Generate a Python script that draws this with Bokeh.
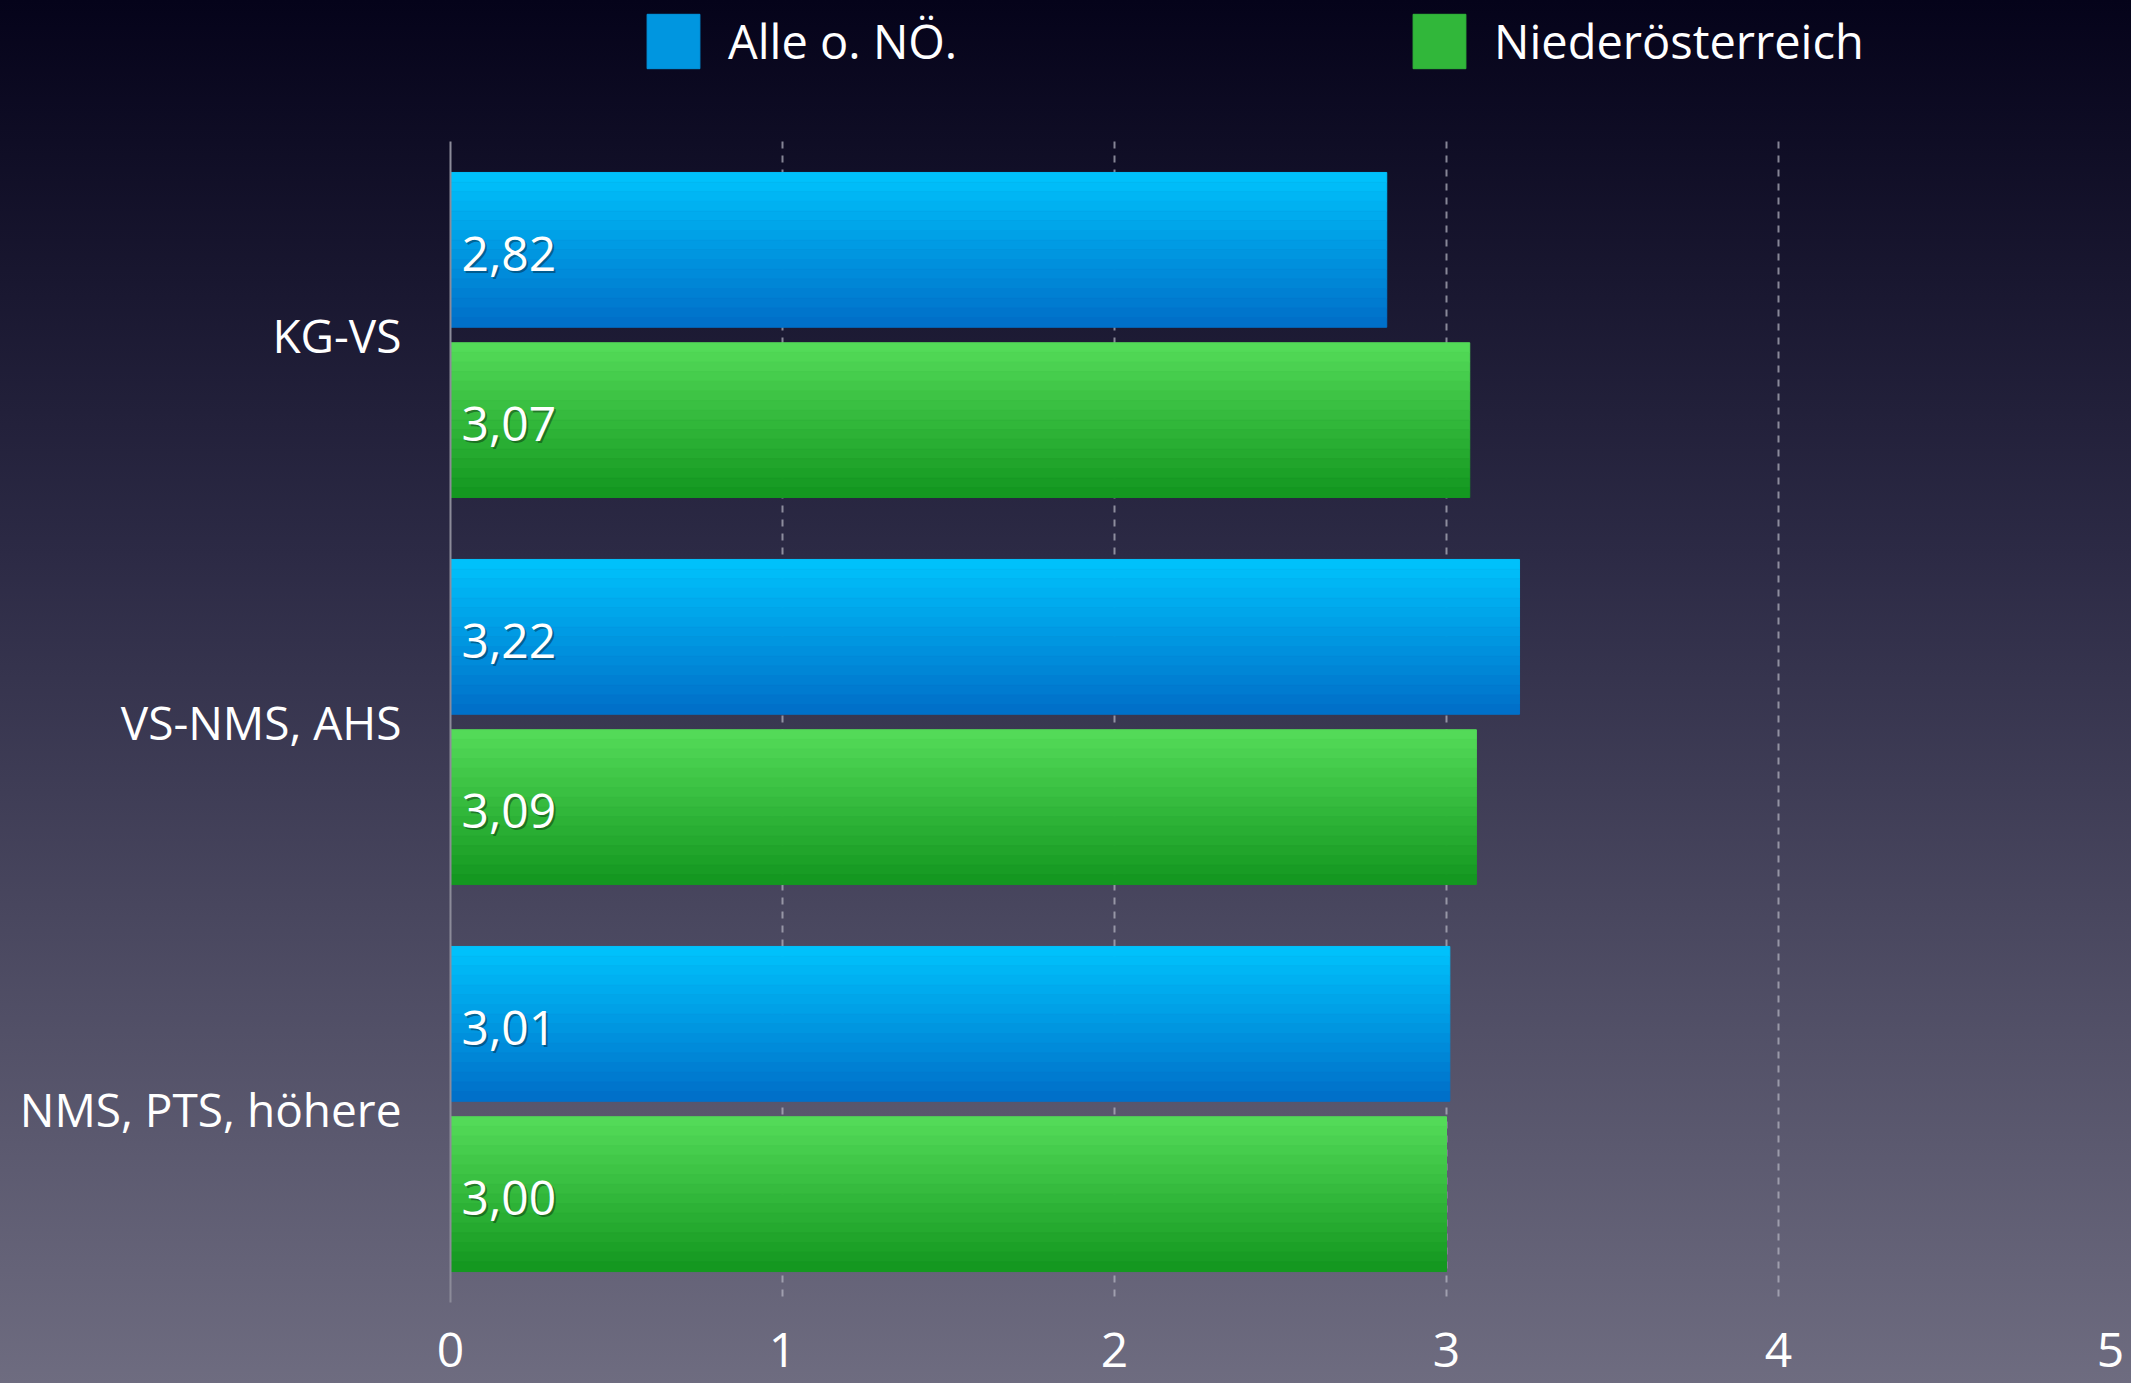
from bokeh.plotting import figure
from bokeh.models import ColumnDataSource, Range1d, FixedTicker, Legend, LegendItem, Grid
from bokeh.core.properties import value
from bokeh.embed import file_html
from bokeh.resources import INLINE

# ---------------- data ----------------
categories = ["KG-VS", "VS-NMS, AHS", "NMS, PTS, höhere"]
series_names = ["Alle o. NÖ.", "Niederösterreich"]
alle_values = [2.82, 3.22, 3.01]
noe_values = [3.07, 3.09, 3.00]
x_ticks = [0, 1, 2, 3, 4, 5]

# ---------------- style ----------------
FONT = "Open Sans"
BLUE_TOP, BLUE_BOT = "#00c1fb", "#0070c9"
GREEN_TOP, GREEN_BOT = "#53da58", "#149820"
N_STRIPS = 16
BAR_H = 0.40
OFFSET = 0.22


def lerp(c1, c2, t):
    a = [int(c1[i:i + 2], 16) for i in (1, 3, 5)]
    b = [int(c2[i:i + 2], 16) for i in (1, 3, 5)]
    return "#%02x%02x%02x" % tuple(round(a[j] + (b[j] - a[j]) * t) for j in range(3))


def strip_source(vals, sign, top, bot):
    ys, rights, colors = [], [], []
    for i, v in enumerate(vals):
        c = i + sign * OFFSET
        for k in range(N_STRIPS):
            ys.append(c - BAR_H / 2 + (k + 0.5) * BAR_H / N_STRIPS)
            rights.append(v)
            colors.append(lerp(top, bot, k / (N_STRIPS - 1)))
    return ColumnDataSource(dict(y=ys, right=rights, color=colors))


def label_source(vals, sign):
    return ColumnDataSource(dict(
        x=[0] * len(vals),
        y=[i + sign * OFFSET for i in range(len(vals))],
        text=[f"{v:.2f}".replace(".", ",") for v in vals],
    ))


W, H = 2131, 1383
BOTTOM, LEFT, RIGHT = 81, 450, 21
PLOT_TOP = 141                      # where the category area starts
frame_h = H - BOTTOM                # frame runs from the very top
unit_px = (frame_h - PLOT_TOP) / len(categories)
y_lo, y_hi = -0.5, len(categories) - 0.5
y_top = y_lo - PLOT_TOP / unit_px   # extra room above for the legend

p = figure(width=W, height=H, output_backend="svg", toolbar_location=None,
           x_range=Range1d(0, 5), y_range=Range1d(y_hi, y_top),
           min_border_left=LEFT, min_border_right=RIGHT,
           min_border_top=0, min_border_bottom=BOTTOM)
p.background_fill_alpha = 0
p.border_fill_alpha = 0
p.outline_line_color = None
p.styles = {"background": "linear-gradient(to bottom, #05031a 0%, #2c2a45 40%, #6e6c80 100%)"}

# grid (limited to the category area)
p.xgrid.ticker = FixedTicker(ticks=x_ticks)
p.xgrid.grid_line_color = "#b8b8c4"
p.xgrid.grid_line_alpha = 0.7
p.xgrid.grid_line_dash = "7 7"
p.xgrid.grid_line_width = 2
p.ygrid.grid_line_color = None
if "cross_bounds" in Grid.properties():
    p.xgrid.cross_bounds = (y_lo, y_hi)
else:
    p.xgrid.grid_line_color = None
    p.segment(x0=x_ticks, x1=x_ticks, y0=[y_lo] * len(x_ticks), y1=[y_hi] * len(x_ticks),
              line_color="#b8b8c4", line_alpha=0.7, line_dash="7 7", line_width=2)

# bars (vertical colour gradient built from thin strips)
src_a = strip_source(alle_values, -1, BLUE_TOP, BLUE_BOT)
src_n = strip_source(noe_values, +1, GREEN_TOP, GREEN_BOT)
r_a = p.hbar(y="y", left=0, right="right", height=BAR_H / N_STRIPS,
             fill_color="color", line_color="color", line_width=1, source=src_a)
r_n = p.hbar(y="y", left=0, right="right", height=BAR_H / N_STRIPS,
             fill_color="color", line_color="color", line_width=1, source=src_n)

# value labels with soft shadow
for sign, vals in ((-1, alle_values), (+1, noe_values)):
    ls = label_source(vals, sign)
    p.text(x="x", y="y", text="text", source=ls, x_offset=13, y_offset=6,
           text_font=value(FONT), text_font_size="48px", text_color="black",
           text_alpha=0.35, text_baseline="middle", text_align="left")
    p.text(x="x", y="y", text="text", source=ls, x_offset=11, y_offset=4,
           text_font=value(FONT), text_font_size="48px", text_color="white",
           text_baseline="middle", text_align="left")

# axes
p.xaxis.ticker = FixedTicker(ticks=x_ticks)
p.xaxis.axis_line_color = None
p.xaxis.major_tick_line_color = None
p.xaxis.minor_tick_line_color = None
p.xaxis.major_label_text_color = "white"
p.xaxis.major_label_text_font = FONT
p.xaxis.major_label_text_font_size = "48px"
p.xaxis.major_label_standoff = 24

p.yaxis.ticker = FixedTicker(ticks=list(range(len(categories))))
p.yaxis.major_label_overrides = {i: c for i, c in enumerate(categories)}
p.yaxis.bounds = (y_lo, y_hi)
p.yaxis.axis_line_color = "#8c8b99"
p.yaxis.axis_line_width = 2
p.yaxis.major_tick_line_color = None
p.yaxis.minor_tick_line_color = None
p.yaxis.major_label_text_color = "white"
p.yaxis.major_label_text_font = FONT
p.yaxis.major_label_text_font_size = "46px"
p.yaxis.major_label_standoff = 43

# legends (one per item, inside the frame's top strip)
for name, rend, xloc in ((series_names[0], r_a, 190), (series_names[1], r_n, 956)):
    leg = Legend(items=[LegendItem(label=name, renderers=[rend], index=N_STRIPS // 2)],
                 location=(xloc, frame_h - 75), orientation="horizontal",
                 background_fill_alpha=0, border_line_color=None,
                 padding=0, margin=0, spacing=0,
                 glyph_width=66, glyph_height=68, label_standoff=22,
                 label_text_font=FONT, label_text_font_size="47px",
                 label_text_color="white")
    p.add_layout(leg)

open("out.html", "w").write(file_html(p, INLINE))
